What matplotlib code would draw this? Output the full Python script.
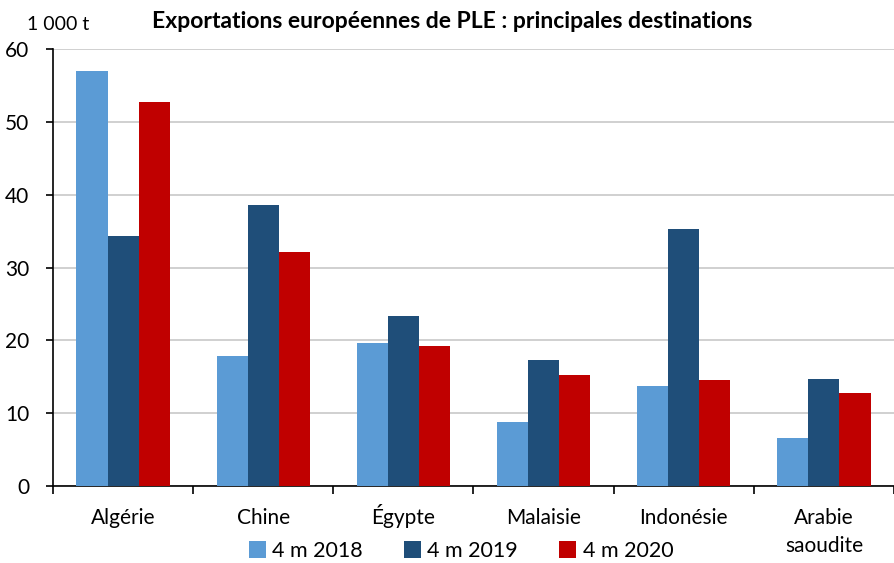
import numpy as np
import matplotlib.pyplot as plt
import matplotlib.transforms as mtransforms

pays = ['Algérie', 'Chine', 'Égypte', 'Malaisie', 'Indonésie', 'Arabie\nsaoudite']
v2018 = [57.0, 17.8, 19.7, 8.8, 13.7, 6.6]
v2019 = [34.3, 38.6, 23.3, 17.3, 35.3, 14.7]
v2020 = [52.7, 32.1, 19.2, 15.2, 14.5, 12.8]
series = ['4 m 2018', '4 m 2019', '4 m 2020']
couleurs = ['#5B9BD5', '#1F4E79', '#C00000']

plt.rcParams['font.family'] = ['Lato', 'DejaVu Sans']

W, H = 894, 563
fig = plt.figure(figsize=(W / 100, H / 100), dpi=100)
ax = fig.add_axes([53 / W, (H - 486) / H, (W - 53) / W, 437 / H])

x = np.arange(len(pays))
w = 0.222
for i, (vals, lab, c) in enumerate(zip([v2018, v2019, v2020], series, couleurs)):
    ax.bar(x + (i - 1) * w, vals, w, color=c, label=lab, zorder=3)

ax.set_ylim(0, 60)
ax.set_xlim(-0.5, 5.46)
ax.set_yticks(np.arange(0, 61, 10))
ax.yaxis.grid(True, color='#c8c8c8', linewidth=1.2, zorder=0)
ax.set_axisbelow(True)

# ticks entre les categories
ax.set_xticks(np.arange(-0.5, 5.6, 1))
ax.set_xticklabels([])
ax.tick_params(axis='x', which='major', length=6, width=1.2, direction='out')
ax.tick_params(axis='y', length=5, width=1.2, labelsize=15, pad=12)

# noms des pays, une ligne a la fois sur la ligne de base
trans = mtransforms.blended_transform_factory(ax.transData, fig.transFigure)
for xi, nom in zip(x, pays):
    for k, ligne in enumerate(nom.split('\n')):
        ax.text(xi, 1 - (524 + 28 * k) / H, ligne, transform=trans,
                ha='center', va='baseline', fontsize=15)

for s in ['top', 'right']:
    ax.spines[s].set_visible(False)
for s in ['left', 'bottom']:
    ax.spines[s].set_linewidth(1.2)
    ax.spines[s].set_color('black')

fig.text(27 / W, 1 - 25 / H, '1 000 t', fontsize=14, va='center', ha='left')
fig.text(452 / W, 1 - 22 / H, 'Exportations européennes de PLE : principales destinations',
         fontsize=16.5, fontweight='bold', va='center', ha='center')

fig.legend(loc='center', bbox_to_anchor=(461 / W, 1 - 551 / H), ncol=3, frameon=False,
           fontsize=15.5, handlelength=0.8, handleheight=0.8, handletextpad=0.3,
           columnspacing=1.9)

fig.savefig('out.png', dpi=100)
